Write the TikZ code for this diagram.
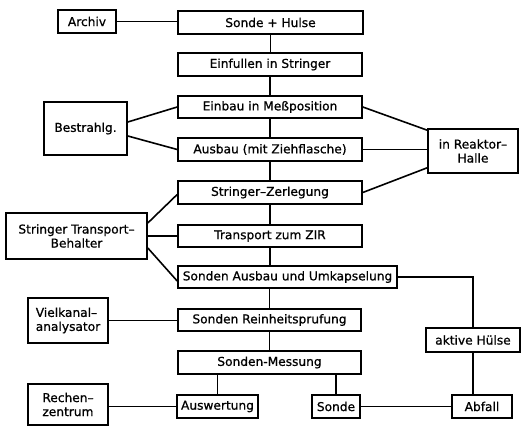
\documentclass[tikz,border=0pt]{standalone}
\usepackage{fontspec}
\setmainfont{DejaVu Sans}
\newfontfamily\lbl{DejaVu Sans}[FakeBold=0.8]
\begin{document}
\begin{tikzpicture}[x=1pt,y=-1pt,
 box/.style={draw, line width=1.6pt, inner sep=1pt, font=\lbl\fontsize{12.2}{14}\selectfont, align=center},
 conn/.style={line width=1.6pt}]
\fill[white] (0,0) rectangle (525,427);
\useasboundingbox (0,0) rectangle (525,427);
% main column
\node[box, minimum width=58, minimum height=23] (archiv) at (87,21.5) {Archiv};
\node[box, minimum width=185, minimum height=23] (sh) at (270.5,22.5) {Sonde + Hulse};
\node[box, minimum width=184, minimum height=23] (einf) at (270,64.5) {Einfullen in Stringer};
\node[box, minimum width=184, minimum height=22] (einbau) at (270,107) {Einbau in Meßposition};
\node[box, minimum width=184, minimum height=23] (ausbau) at (270,149.5) {Ausbau (mit Ziehflasche)};
\node[box, minimum width=184, minimum height=23] (zerl) at (270,192.5) {Stringer–Zerlegung};
\node[box, minimum width=184, minimum height=22] (trans) at (270,236) {Transport zum ZIR};
\node[box, minimum width=219, minimum height=22] (sausbau) at (287.5,277) {Sonden Ausbau und Umkapselung};
\node[box, minimum width=183, minimum height=22] (rein) at (269.5,320) {Sonden Reinheitsprufung};
\node[box, minimum width=183, minimum height=23] (mess) at (269.5,362.5) {Sonden-Messung};
\node[box, minimum width=81, minimum height=23] (ausw) at (217.5,406.5) {Auswertung};
\node[box, minimum width=48, minimum height=23] (sonde) at (336,406.5) {Sonde};
\node[box, minimum width=60, minimum height=23] (abfall) at (482,406.5) {Abfall};
\node[box, minimum width=94, minimum height=24] (aktiv) at (473,340) {aktive Hülse};
% side boxes
\node[box, minimum width=90, minimum height=44] (reaktor) at (473,151) {in Reaktor–\\Halle};
\node[box, minimum width=83, minimum height=53] (bestr) at (85.5,128.5) {Bestrahlg.};
\node[box, minimum width=141, minimum height=46] (stb) at (76.5,236) {Stringer Transport–\\Behalter};
\node[box, minimum width=80, minimum height=45, align=left] (viel) at (68,320.5) {Vielkanal–\\analysator};
\node[box, minimum width=80, minimum height=41, align=left] (rech) at (68,404.5) {Rechen–\\zentrum};
% spine
\draw[conn] (archiv.east) -- (archiv.east -| sh.west);
\draw[conn] (sh.south) -- (sh.south |- einf.north);
\draw[conn] (einf.south) -- (einf.south |- einbau.north);
\draw[conn] (einbau.south) -- (einbau.south |- ausbau.north);
\draw[conn] (ausbau.south) -- (ausbau.south |- zerl.north);
\draw[conn] (zerl.south) -- (zerl.south |- trans.north);
\draw[conn] (trans.south) -- (trans.south |- sausbau.north);
\draw[conn] (rein.north |- sausbau.south) -- (rein.north);
\draw[conn] (rein.south) -- (rein.south |- mess.north);
\draw[conn] (ausw.north |- mess.south) -- (ausw.north);
\draw[conn] (sonde.north |- mess.south) -- (sonde.north);
\draw[conn] (sonde.east) -- (sonde.east -| abfall.west);
\draw[conn] (rech.east |- ausw.west) -- (ausw.west);
\draw[conn] (viel.east) -- (viel.east -| rein.west);
% diagonals
\draw[conn] ([yshift=6.5pt]bestr.east) -- (einbau.west);
\draw[conn] ([yshift=-7.5pt]bestr.east) -- (ausbau.west);
\draw[conn] (einbau.east) -- ([yshift=-2pt]reaktor.north west);
\draw[conn] (ausbau.east) -- (ausbau.east -| reaktor.west);
\draw[conn] (zerl.east) -- ([yshift=6pt]reaktor.south west);
\draw[conn] ([yshift=13pt]stb.east) -- ([yshift=-2pt]zerl.west);
\draw[conn] (stb.east) -- (stb.east -| trans.west);
\draw[conn] ([yshift=-12pt]stb.east) -- ([yshift=-4pt]sausbau.west);
% right branch
\draw[conn] (sausbau.east) -| (aktiv.north);
\draw[conn] (aktiv.south) -- (aktiv.south |- abfall.north);
\end{tikzpicture}
\end{document}
